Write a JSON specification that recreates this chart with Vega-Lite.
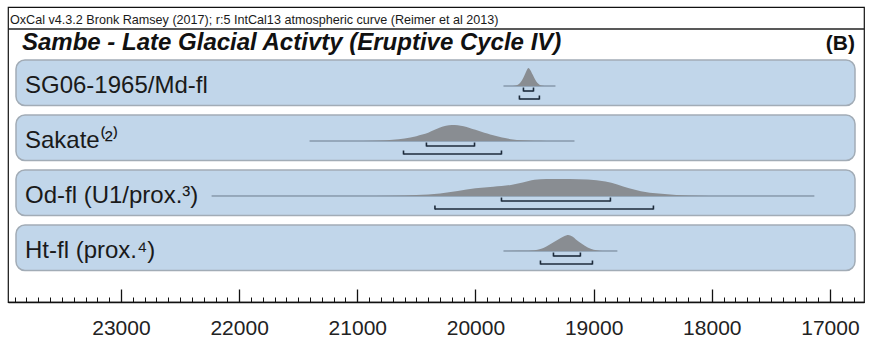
{
  "$schema": "https://vega.github.io/schema/vega-lite/v6.json",
  "width": 856,
  "height": 295,
  "autosize": "none",
  "padding": {"left": 8, "top": 7, "right": 5, "bottom": 36},
  "background": "white",
  "config": {"view": {"stroke": "#111111", "strokeWidth": 1.2}},
  "datasets": {
    "samples": [
      {"row": 1, "name": "SG06-1965/Md-fl", "from": 19763, "to": 19323, "r68a": 19594, "r68b": 19509, "r95a": 19628, "r95b": 19459},
      {"row": 2, "name": "Sakate⁽²⁾", "from": 21404, "to": 19162, "r68a": 20415, "r68b": 20008, "r95a": 20609, "r95b": 19780},
      {"row": 3, "name": "Od-fl (U1/prox.³)", "from": 22233, "to": 17132, "r68a": 19780, "r68b": 18858, "r95a": 20343, "r95b": 18494},
      {"row": 4, "name": "Ht-fl (prox.⁴)", "from": 19763, "to": 18799, "r68a": 19340, "r68b": 19112, "r95a": 19450, "r95b": 19010}
    ],
    "texts": [
      {"kind": "header", "text": "OxCal v4.3.2 Bronk Ramsey (2017); r:5 IntCal13 atmospheric curve (Reimer et al 2013)"},
      {"kind": "title", "text": "Sambe - Late Glacial Activty (Eruptive Cycle IV)"},
      {"kind": "panel", "text": "(B)"}
    ],
    "dist": [
      {"row": 1, "year": 19763, "p": 0}, {"row": 1, "year": 19700, "p": 0.003}, {"row": 1, "year": 19670, "p": 0.015},
      {"row": 1, "year": 19645, "p": 0.05}, {"row": 1, "year": 19625, "p": 0.15}, {"row": 1, "year": 19605, "p": 0.33},
      {"row": 1, "year": 19585, "p": 0.6}, {"row": 1, "year": 19568, "p": 0.85}, {"row": 1, "year": 19552, "p": 1},
      {"row": 1, "year": 19535, "p": 0.88}, {"row": 1, "year": 19515, "p": 0.62}, {"row": 1, "year": 19495, "p": 0.36},
      {"row": 1, "year": 19475, "p": 0.16}, {"row": 1, "year": 19455, "p": 0.06}, {"row": 1, "year": 19430, "p": 0.015},
      {"row": 1, "year": 19400, "p": 0.003}, {"row": 1, "year": 19323, "p": 0},

      {"row": 2, "year": 21404, "p": 0}, {"row": 2, "year": 20950, "p": 0.005}, {"row": 2, "year": 20800, "p": 0.03},
      {"row": 2, "year": 20700, "p": 0.08}, {"row": 2, "year": 20600, "p": 0.16}, {"row": 2, "year": 20500, "p": 0.3},
      {"row": 2, "year": 20450, "p": 0.4}, {"row": 2, "year": 20400, "p": 0.52}, {"row": 2, "year": 20350, "p": 0.68},
      {"row": 2, "year": 20300, "p": 0.85}, {"row": 2, "year": 20250, "p": 0.96}, {"row": 2, "year": 20200, "p": 1},
      {"row": 2, "year": 20150, "p": 0.98}, {"row": 2, "year": 20100, "p": 0.92}, {"row": 2, "year": 20050, "p": 0.82},
      {"row": 2, "year": 20000, "p": 0.7}, {"row": 2, "year": 19950, "p": 0.58}, {"row": 2, "year": 19900, "p": 0.47},
      {"row": 2, "year": 19850, "p": 0.36}, {"row": 2, "year": 19800, "p": 0.26}, {"row": 2, "year": 19750, "p": 0.18},
      {"row": 2, "year": 19700, "p": 0.11}, {"row": 2, "year": 19600, "p": 0.04}, {"row": 2, "year": 19500, "p": 0.012},
      {"row": 2, "year": 19400, "p": 0.003}, {"row": 2, "year": 19162, "p": 0},

      {"row": 3, "year": 22233, "p": 0}, {"row": 3, "year": 21000, "p": 0.002}, {"row": 3, "year": 20700, "p": 0.02},
      {"row": 3, "year": 20500, "p": 0.06}, {"row": 3, "year": 20300, "p": 0.15}, {"row": 3, "year": 20150, "p": 0.3},
      {"row": 3, "year": 20000, "p": 0.45}, {"row": 3, "year": 19850, "p": 0.55}, {"row": 3, "year": 19700, "p": 0.65},
      {"row": 3, "year": 19600, "p": 0.8}, {"row": 3, "year": 19500, "p": 0.96}, {"row": 3, "year": 19400, "p": 1},
      {"row": 3, "year": 19200, "p": 1}, {"row": 3, "year": 19050, "p": 0.97}, {"row": 3, "year": 18900, "p": 0.85},
      {"row": 3, "year": 18800, "p": 0.68}, {"row": 3, "year": 18700, "p": 0.45}, {"row": 3, "year": 18600, "p": 0.28},
      {"row": 3, "year": 18450, "p": 0.14}, {"row": 3, "year": 18300, "p": 0.06}, {"row": 3, "year": 18100, "p": 0.015},
      {"row": 3, "year": 17950, "p": 0.003}, {"row": 3, "year": 17132, "p": 0},

      {"row": 4, "year": 19763, "p": 0}, {"row": 4, "year": 19550, "p": 0.01}, {"row": 4, "year": 19500, "p": 0.04},
      {"row": 4, "year": 19450, "p": 0.12}, {"row": 4, "year": 19400, "p": 0.28}, {"row": 4, "year": 19350, "p": 0.5},
      {"row": 4, "year": 19300, "p": 0.72}, {"row": 4, "year": 19250, "p": 0.92}, {"row": 4, "year": 19215, "p": 1},
      {"row": 4, "year": 19180, "p": 0.9}, {"row": 4, "year": 19150, "p": 0.72}, {"row": 4, "year": 19100, "p": 0.45},
      {"row": 4, "year": 19050, "p": 0.22}, {"row": 4, "year": 19000, "p": 0.08}, {"row": 4, "year": 18950, "p": 0.02},
      {"row": 4, "year": 18900, "p": 0.004}, {"row": 4, "year": 18799, "p": 0}
    ]
  },
  "resolve": {"scale": {"y": "independent"}, "axis": {"x": "independent"}},
  "layer": [
    {
      "layer": [
        {
          "data": {"name": "samples"},
          "mark": {"type": "rect", "fill": "#c1d6ea", "stroke": "#a2acb6", "strokeWidth": 1.5, "cornerRadius": 9, "xOffset": 8, "x2Offset": -9, "yOffset": -26, "y2Offset": 19.5},
          "encoding": {
            "x": {"datum": 23956, "type": "quantitative", "scale": {"domain": [16712, 23956], "reverse": true, "nice": false, "zero": false}, "axis": null},
            "x2": {"datum": 16712},
            "y": {"field": "row", "type": "quantitative", "scale": {"domain": [-0.4364, 4.9273], "reverse": true, "nice": false, "zero": false}, "axis": null},
            "y2": {"field": "row"}
          }
        },
        {
          "data": {"name": "texts"},
          "transform": [{"filter": "datum.kind == 'header'"}],
          "mark": {"type": "rule", "color": "#222222", "strokeWidth": 1.3, "yOffset": -2},
          "encoding": {
            "x": {"datum": 23956, "type": "quantitative", "scale": {"domain": [16712, 23956], "reverse": true, "nice": false, "zero": false}, "axis": null},
            "x2": {"datum": 16712},
            "y": {"datum": 0, "type": "quantitative", "scale": {"domain": [-0.4364, 4.9273], "reverse": true, "nice": false, "zero": false}, "axis": null}
          }
        },
        {
          "data": {"name": "texts"},
          "transform": [{"filter": "datum.kind == 'header'"}],
          "mark": {"type": "text", "align": "left", "baseline": "alphabetic", "xOffset": 2, "yOffset": -7, "font": "Liberation Sans", "fontSize": 12.6, "color": "#1a1a1a"},
          "encoding": {
            "x": {"datum": 23956, "type": "quantitative", "scale": {"domain": [16712, 23956], "reverse": true, "nice": false, "zero": false}, "axis": null},
            "y": {"datum": 0, "type": "quantitative", "scale": {"domain": [-0.4364, 4.9273], "reverse": true, "nice": false, "zero": false}, "axis": null},
            "text": {"field": "text"}
          }
        },
        {
          "data": {"name": "texts"},
          "transform": [{"filter": "datum.kind == 'title'"}],
          "mark": {"type": "text", "align": "left", "baseline": "alphabetic", "xOffset": 14, "yOffset": 18.5, "font": "Liberation Sans", "fontSize": 24, "fontWeight": "bold", "fontStyle": "italic", "color": "#111111"},
          "encoding": {
            "x": {"datum": 23956, "type": "quantitative", "scale": {"domain": [16712, 23956], "reverse": true, "nice": false, "zero": false}, "axis": null},
            "y": {"datum": 0, "type": "quantitative", "scale": {"domain": [-0.4364, 4.9273], "reverse": true, "nice": false, "zero": false}, "axis": null},
            "text": {"field": "text"}
          }
        },
        {
          "data": {"name": "texts"},
          "transform": [{"filter": "datum.kind == 'panel'"}],
          "mark": {"type": "text", "align": "right", "baseline": "alphabetic", "xOffset": -9, "yOffset": 18.5, "font": "Liberation Sans", "fontSize": 21, "fontWeight": "bold", "color": "#111111"},
          "encoding": {
            "x": {"datum": 16712, "type": "quantitative", "scale": {"domain": [16712, 23956], "reverse": true, "nice": false, "zero": false}, "axis": null},
            "y": {"datum": 0, "type": "quantitative", "scale": {"domain": [-0.4364, 4.9273], "reverse": true, "nice": false, "zero": false}, "axis": null},
            "text": {"field": "text"}
          }
        },
        {
          "data": {"name": "samples"},
          "mark": {"type": "text", "align": "left", "baseline": "alphabetic", "xOffset": 17, "yOffset": 7, "font": "Liberation Sans", "fontSize": 24, "color": "#1a1a1a"},
          "encoding": {
            "x": {"datum": 23956, "type": "quantitative", "scale": {"domain": [16712, 23956], "reverse": true, "nice": false, "zero": false}, "axis": null},
            "y": {"field": "row", "type": "quantitative", "scale": {"domain": [-0.4364, 4.9273], "reverse": true, "nice": false, "zero": false}, "axis": null},
            "text": {"field": "name"}
          }
        },
        {
          "data": {"name": "samples"},
          "mark": {"type": "rule", "color": "#6b7b8c", "strokeWidth": 1},
          "encoding": {
            "x": {"field": "from", "type": "quantitative", "scale": {"domain": [16712, 23956], "reverse": true, "nice": false, "zero": false}, "axis": null},
            "x2": {"field": "to"},
            "y": {"field": "row", "type": "quantitative", "scale": {"domain": [-0.4364, 4.9273], "reverse": true, "nice": false, "zero": false}, "axis": null}
          }
        },
        {
          "data": {"name": "samples"},
          "mark": {"type": "rule", "color": "#1c2a3a", "strokeWidth": 1.6, "yOffset": 5},
          "encoding": {
            "x": {"field": "r68a", "type": "quantitative", "scale": {"domain": [16712, 23956], "reverse": true, "nice": false, "zero": false}, "axis": null},
            "x2": {"field": "r68b"},
            "y": {"field": "row", "type": "quantitative", "scale": {"domain": [-0.4364, 4.9273], "reverse": true, "nice": false, "zero": false}, "axis": null}
          }
        },
        {
          "data": {"name": "samples"},
          "mark": {"type": "rule", "color": "#1c2a3a", "strokeWidth": 1.6, "yOffset": 13},
          "encoding": {
            "x": {"field": "r95a", "type": "quantitative", "scale": {"domain": [16712, 23956], "reverse": true, "nice": false, "zero": false}, "axis": null},
            "x2": {"field": "r95b"},
            "y": {"field": "row", "type": "quantitative", "scale": {"domain": [-0.4364, 4.9273], "reverse": true, "nice": false, "zero": false}, "axis": null}
          }
        },
        {
          "data": {"name": "samples"},
          "transform": [{"fold": ["r68a", "r68b"], "as": ["end", "yr"]}],
          "mark": {"type": "rule", "color": "#1c2a3a", "strokeWidth": 1.6, "yOffset": 1.5, "y2Offset": 5.5},
          "encoding": {
            "x": {"field": "yr", "type": "quantitative", "scale": {"domain": [16712, 23956], "reverse": true, "nice": false, "zero": false}, "axis": null},
            "y": {"field": "row", "type": "quantitative", "scale": {"domain": [-0.4364, 4.9273], "reverse": true, "nice": false, "zero": false}, "axis": null},
            "y2": {"field": "row"}
          }
        },
        {
          "data": {"name": "samples"},
          "transform": [{"fold": ["r95a", "r95b"], "as": ["end", "yr"]}],
          "mark": {"type": "rule", "color": "#1c2a3a", "strokeWidth": 1.6, "yOffset": 9.5, "y2Offset": 13.5},
          "encoding": {
            "x": {"field": "yr", "type": "quantitative", "scale": {"domain": [16712, 23956], "reverse": true, "nice": false, "zero": false}, "axis": null},
            "y": {"field": "row", "type": "quantitative", "scale": {"domain": [-0.4364, 4.9273], "reverse": true, "nice": false, "zero": false}, "axis": null},
            "y2": {"field": "row"}
          }
        }
      ]
    },
    {
      "data": {"name": "dist"},
      "transform": [{"filter": "datum.row == 1"}],
      "mark": {"type": "area", "color": "#898d92", "interpolate": "monotone"},
      "encoding": {
        "x": {"field": "year", "type": "quantitative", "scale": {"domain": [16712, 23956], "reverse": true, "nice": false, "zero": false},
              "axis": {"orient": "bottom", "tickCount": 72, "labels": false, "tickSize": -5, "tickColor": "#111111", "tickWidth": 1, "domain": false, "grid": false, "title": null}},
        "y": {"field": "p", "type": "quantitative", "stack": null, "scale": {"domain": [-12, 4.3889], "nice": false, "zero": false}, "axis": null},
        "y2": {"datum": 0}
      }
    },
    {
      "data": {"name": "dist"},
      "transform": [{"filter": "datum.row == 2"}],
      "mark": {"type": "area", "color": "#898d92", "interpolate": "monotone"},
      "encoding": {
        "x": {"field": "year", "type": "quantitative", "scale": {"domain": [16712, 23956], "reverse": true, "nice": false, "zero": false},
              "axis": {"orient": "bottom", "values": [17000, 18000, 19000, 20000, 21000, 22000, 23000], "format": "d", "tickSize": -13, "tickColor": "#111111", "tickWidth": 1.3, "domain": true, "domainColor": "#111111", "domainWidth": 1.5, "grid": false, "title": null, "labelFont": "Liberation Sans", "labelFontSize": 21, "labelColor": "#222222", "labelPadding": 28, "labelFlush": false, "labelOverlap": false}},
        "y": {"field": "p", "type": "quantitative", "stack": null, "scale": {"domain": [-10.0625, 8.375], "nice": false, "zero": false}, "axis": null},
        "y2": {"datum": 0}
      }
    },
    {
      "data": {"name": "dist"},
      "transform": [{"filter": "datum.row == 3"}],
      "mark": {"type": "area", "color": "#898d92", "interpolate": "monotone"},
      "encoding": {
        "x": {"field": "year", "type": "quantitative", "scale": {"domain": [16712, 23956], "reverse": true, "nice": false, "zero": false}, "axis": null},
        "y": {"field": "p", "type": "quantitative", "stack": null, "scale": {"domain": [-6.2353, 11.1176], "nice": false, "zero": false}, "axis": null},
        "y2": {"datum": 0}
      }
    },
    {
      "data": {"name": "dist"},
      "transform": [{"filter": "datum.row == 4"}],
      "mark": {"type": "area", "color": "#898d92", "interpolate": "monotone"},
      "encoding": {
        "x": {"field": "year", "type": "quantitative", "scale": {"domain": [16712, 23956], "reverse": true, "nice": false, "zero": false}, "axis": null},
        "y": {"field": "p", "type": "quantitative", "stack": null, "scale": {"domain": [-3.1875, 15.25], "nice": false, "zero": false}, "axis": null},
        "y2": {"datum": 0}
      }
    }
  ]
}
